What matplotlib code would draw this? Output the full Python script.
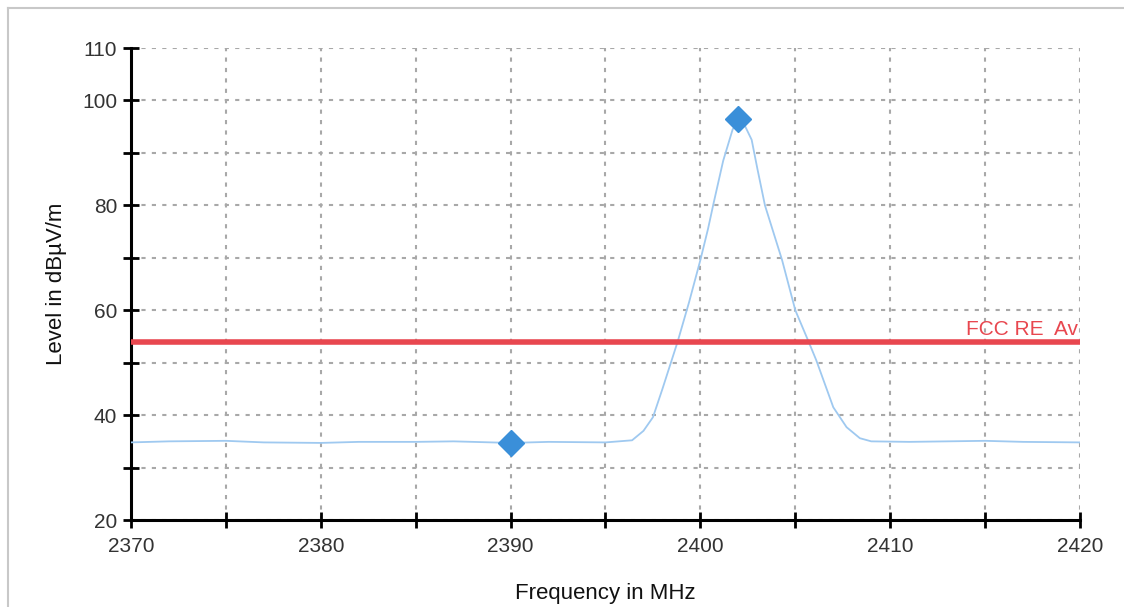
import matplotlib
matplotlib.use("Agg")
import matplotlib.pyplot as plt
from matplotlib.lines import Line2D

plt.rcParams['font.family'] = ['Liberation Sans', 'DejaVu Sans']

# DATA
freq = [2370, 2372, 2375, 2377, 2380, 2382, 2385, 2387, 2390, 2392, 2395, 2396.4,
        2397, 2397.5, 2398, 2398.8, 2399.4, 2400, 2400.4, 2400.7, 2401.2, 2401.7,
        2402, 2402.3, 2402.7, 2403.0, 2403.4, 2404.3, 2405, 2405.7, 2406.1, 2406.6,
        2407, 2407.7, 2408.4, 2409, 2411, 2413, 2415, 2417, 2420]
level = [34.8, 35.0, 35.1, 34.8, 34.7, 34.9, 34.9, 35.0, 34.7, 34.9, 34.8, 35.2,
         37.0, 39.6, 45.0, 54.0, 61.5, 69.6, 75.5, 80.5, 88.5, 94.5,
         96.0, 95.5, 92.5, 87.0, 80.0, 69.6, 60.0, 54.0, 50.5, 45.5,
         41.5, 37.7, 35.6, 35.0, 34.9, 35.0, 35.1, 34.9, 34.8]
marker_freq = [2390, 2402.0]
marker_level = [34.7, 96.5]
limit_level = 54
limit_name = "FCC RE  Av"
yticks = [20, 30, 40, 50, 60, 70, 80, 90, 100, 110]
ytick_labels = ["20", "", "40", "", "60", "", "80", "", "100", "110"]
xticks = [2370, 2375, 2380, 2385, 2390, 2395, 2400, 2405, 2410, 2415, 2420]
xtick_labels = ["2370", "", "2380", "", "2390", "", "2400", "", "2410", "", "2420"]

fig = plt.figure(figsize=(11.24, 6.07), dpi=100)
ax = fig.add_axes([0.1165, 0.1433, 0.8444, 0.7776])

# light frame around the chart panel
fig.add_artist(Line2D([0.0075, 1.0], [0.987, 0.987], color="#c8c8c8", lw=1.5))
fig.add_artist(Line2D([0.0075, 0.0075], [0.0, 0.987], color="#c8c8c8", lw=1.5))

ax.plot(freq, level, color="#9fc9f0", lw=1.3, zorder=3)
ax.axhline(limit_level, color="#e8474f", lw=4, zorder=4)
ax.text(2419.9, limit_level + 0.6, limit_name, color="#e8474f", fontsize=15,
        ha="right", va="bottom", clip_on=True, zorder=5)
ax.plot(marker_freq, marker_level, "D", color="#3a8fd9", markersize=13, zorder=6)

ax.set_xlim(2370, 2420)
ax.set_ylim(20, 110)
ax.set_xticks(xticks)
ax.set_xticklabels(xtick_labels)
ax.set_yticks(yticks)
ax.set_yticklabels(ytick_labels)
ax.tick_params(direction="inout", length=12, width=2, labelsize=15,
               labelcolor="#333333")
ax.tick_params(axis="y", pad=4)
ax.tick_params(axis="x", pad=6)

ax.grid(True, color="#a8a8a8", linestyle=(0, (2, 3)), lw=1.5)
for s in ["top", "right"]:
    ax.spines[s].set_visible(False)
for s in ["left", "bottom"]:
    ax.spines[s].set_linewidth(2.2)

ax.set_ylabel("Level in dBµV/m", fontsize=16, color="#111111", labelpad=11)
ax.set_xlabel("Frequency in MHz", fontsize=16, color="#111111", labelpad=20)

fig.savefig("out.png", dpi=100)
